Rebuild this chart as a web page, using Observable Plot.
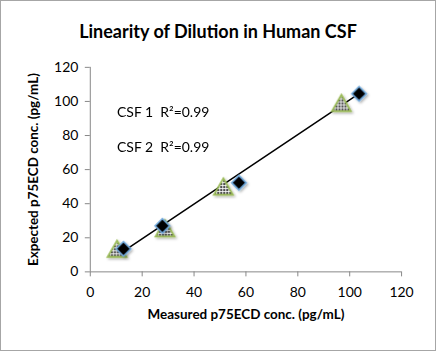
<!DOCTYPE html>
<html><head><meta charset="utf-8">
<script src="https://cdn.jsdelivr.net/npm/d3@7"></script>
<script src="https://cdn.jsdelivr.net/npm/@observablehq/plot@0.6"></script>
<style>
body{margin:0;background:#fff;}
#wrap{position:relative;width:434px;height:349px;border:1px solid #a6a6a6;overflow:hidden;background:#fff;}
#title{position:absolute;left:0;top:19px;width:434px;text-align:center;font:bold 18px Lato, "Open Sans", sans-serif;color:#000;}
#chart{position:absolute;left:-1px;top:-1px;}
</style></head>
<body>
<div id="wrap"><div id="title">Linearity of Dilution in Human CSF</div><div id="chart"></div></div>
<script>
// CSF 1 (diamonds)
const csf1Measured = [12.8, 27.8, 57.3, 103.6];
const csf1Expected = [13.5, 27.0, 52.3, 104.5];
// CSF 2 (triangles)
const csf2Measured = [10.3, 28.8, 51.3, 96.8];
const csf2Expected = [12.0, 24.0, 48.5, 97.5];
// trend line endpoints
const trendX = [11.3, 103.6];
const trendY = [10.5, 104.6];
const xTicks = [0, 20, 40, 60, 80, 100, 120];
const yTicks = [0, 20, 40, 60, 80, 100, 120];
const labels = ["CSF 1  R²=0.99", "CSF 2  R²=0.99"];
const labelY = [93.3, 73.0];
const labelX = [10.3, 10.3];

const d1 = csf1Measured.map((x, i) => ({x, y: csf1Expected[i]}));
const d2 = csf2Measured.map((x, i) => ({x, y: csf2Expected[i]}));
const trend = trendX.map((x, i) => ({x, y: trendY[i]}));
const lab = labels.map((t, i) => ({t, x: labelX[i], y: labelY[i]}));

const font = "Lato, 'Open Sans', sans-serif";
const plot = Plot.plot({
  width: 436, height: 351,
  marginLeft: 90, marginRight: 34, marginTop: 67, marginBottom: 79,
  style: {fontFamily: font, fontSize: "14px", color: "#000", background: "transparent"},
  x: {domain: [0, 120], label: null},
  y: {domain: [0, 120], label: null},
  marks: [
    Plot.axisX({ticks: xTicks, tickSize: 5, tickPadding: 10, stroke: "#888", fill: "#000", label: null, fontSize: 14}),
    Plot.axisY({ticks: yTicks, tickSize: 5, tickPadding: 7, stroke: "#888", fill: "#000", label: null, fontSize: 14}),
    Plot.ruleY([0], {stroke: "#888"}),
    Plot.ruleX([0], {stroke: "#888"}),
    Plot.line(trend, {x: "x", y: "y", stroke: "#000", strokeWidth: 1.5}),
    Plot.dot(d2, {x: "x", y: "y", symbol: "triangle", r: 7, fill: "url(#chk)", stroke: "#9bbb59", strokeWidth: 1.8, className: "tri"}),
    Plot.dot(d1, {x: "x", y: "y", symbol: "diamond2", r: 6.5, fill: "#000", stroke: "#6fa8dc", strokeWidth: 1.6, className: "dia"}),
    Plot.text(lab, {x: "x", y: "y", text: "t", textAnchor: "start", fontSize: 14, fill: "#000"}),
    Plot.text(["Measured p75ECD conc. (pg/mL)"], {frameAnchor: "bottom", dy: 47, fontWeight: "bold", fontSize: 13.5, fill: "#000"}),
    Plot.text(["Expected p75ECD conc. (pg/mL)"], {frameAnchor: "left", textAnchor: "middle", dx: -57, rotate: -90, fontWeight: "bold", fontSize: 13.5, fill: "#000"})
  ]
});
const ns = "http://www.w3.org/2000/svg";
const defs = document.createElementNS(ns, "defs");
defs.innerHTML = `<pattern id="chk" width="3" height="3" patternUnits="userSpaceOnUse">
<rect width="3" height="3" fill="#fff"/><rect x="0" y="0" width="1.8" height="1.8" fill="#000"/></pattern>
<filter id="sh" x="-50%" y="-50%" width="200%" height="200%"><feDropShadow dx="1.5" dy="1.5" stdDeviation="1" flood-color="#000" flood-opacity="0.3"/></filter>`;
plot.insertBefore(defs, plot.firstChild);
plot.querySelectorAll(".tri, .dia").forEach(g => g.setAttribute("filter", "url(#sh)"));
document.getElementById("chart").appendChild(plot);
</script>
</body></html>
